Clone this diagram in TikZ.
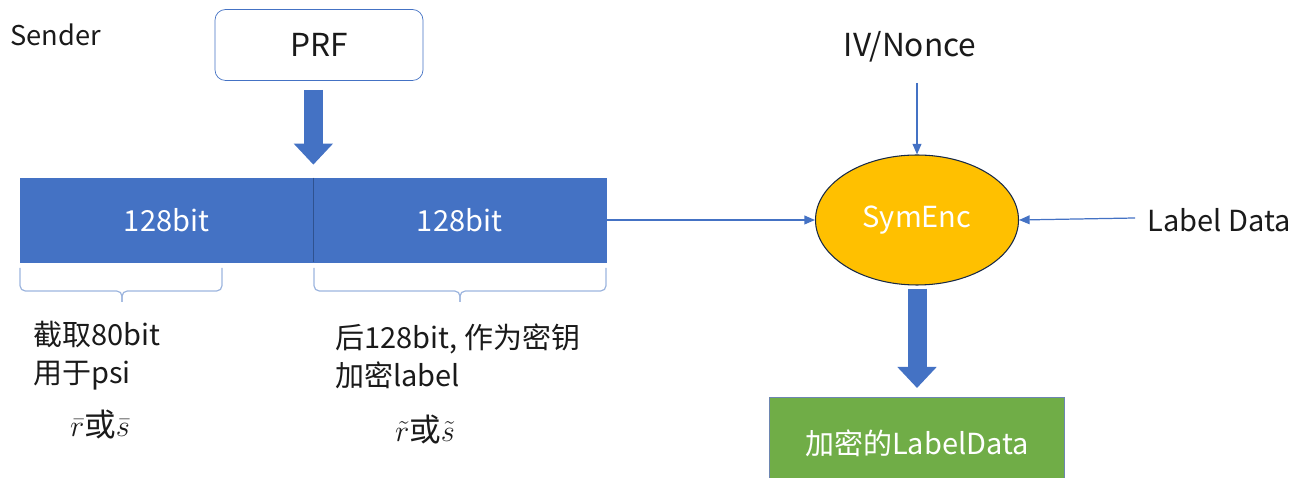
\documentclass[tikz,border=0pt]{standalone}
\usepackage{fontspec}
\setmainfont{Noto Sans CJK SC}
\usepackage{amsmath}
\usetikzlibrary{calc,arrows.meta,shapes.geometric}
\definecolor{blk}{HTML}{4472C4}
\definecolor{blkdark}{HTML}{2F528F}
\definecolor{enc}{HTML}{FFC000}
\definecolor{out}{HTML}{70AD47}
\definecolor{brc}{HTML}{9DB5DE}
\definecolor{ink}{HTML}{1A1A1A}
\tikzset{
  lab/.style={text=ink, font=\fontsize{16.5}{21.5}\selectfont, inner sep=0pt},
  labw/.style={text=white, font=\fontsize{16.5}{20}\selectfont},
  half/.style={fill=blk, draw=blk, minimum width=5.86cm, minimum height=1.68cm, inner sep=0pt},
  thin/.style={draw=blk, line width=0.7pt, -{Triangle[length=6pt,width=5pt]}},
  fat/.style={draw=blk, line width=0.38cm, -{Triangle[length=0.42cm,width=0.76cm]}},
  brace/.style={draw=brc, line width=0.7pt, rounded corners=3pt}
}

\begin{document}
\begin{tikzpicture}
  \useasboundingbox (0,0) rectangle (25.9,9.56);

  % key generation
  \node[lab, anchor=west, font=\fontsize{15.5}{18}\selectfont] (sender) at (0.2,8.86) {Sender};
  \node[lab, draw=blk, fill=white, rounded corners=6pt, minimum width=4.16cm,
        minimum height=1.42cm, font=\fontsize{18}{20}\selectfont] (prf) at (6.38,8.66) {PRF};
  \node[half, labw] (k1) at (3.33,5.16) {128bit};
  \node[half, labw] (k2) at (9.19,5.16) {128bit};
  \draw[blkdark, line width=0.5pt] (k1.north east) -- (k1.south east);
  \draw[fat] ($(k1.north east |- prf.south)+(0,-0.18)$) -- ($(k1.north east)+(0,0.26)$);

  % braces under the two halves
  \draw[brace] (0.4,4.2) |- (2.44,3.74) -- (2.44,3.52);
  \draw[brace] (4.44,4.2) |- (2.44,3.74) -- (2.44,3.52);
  \draw[brace] (6.28,4.2) |- (9.2,3.74) -- (9.2,3.52);
  \draw[brace] (12.12,4.2) |- (9.2,3.74) -- (9.2,3.52);

  \node[lab, anchor=west, align=left] (psi) at (0.66,2.44) {截取80bit\\用于psi};
  \node[lab, anchor=west, align=left] (key) at (6.7,2.44) {后128bit, 作为密钥\\加密label};
  \node[lab, font=\fontsize{18}{21.5}\selectfont] (rs1) at (2.0,1.06) {$\bar{r}$或$\bar{s}$};
  \node[lab, font=\fontsize{18}{21.5}\selectfont] (rs2) at (8.5,0.96) {$\tilde{r}$或$\tilde{s}$};

  % encryption
  \node[ellipse, fill=enc, draw=blkdark!50!black, line width=0.6pt, minimum width=4.06cm,
        minimum height=2.6cm, inner sep=0pt, labw] (enc) at (18.34,5.16) {SymEnc};
  \node[lab, font=\fontsize{18}{20}\selectfont] (iv) at (18.2,8.62) {IV/Nonce};
  \coordinate (ivend) at (18.34,7.9);
  \draw[thin] (ivend) -- (enc.north);
  \node[lab, anchor=west] (ld) at (22.94,5.16) {Label Data};
  \draw[thin] ($(ld.west)+(-0.24,0.04)$) -- (enc.east);
  \draw[thin] (k2.east) -- (enc.west);

  \node[fill=out, draw=blkdark!70, minimum width=5.9cm, minimum height=1.84cm,
        anchor=north, labw] (res) at (18.34,1.62) {加密的LabelData};
  \draw[fat] ($(enc.south)+(0,-0.06)$) -- ($(res.north)+(0,0.18)$);
\end{tikzpicture}
\end{document}
